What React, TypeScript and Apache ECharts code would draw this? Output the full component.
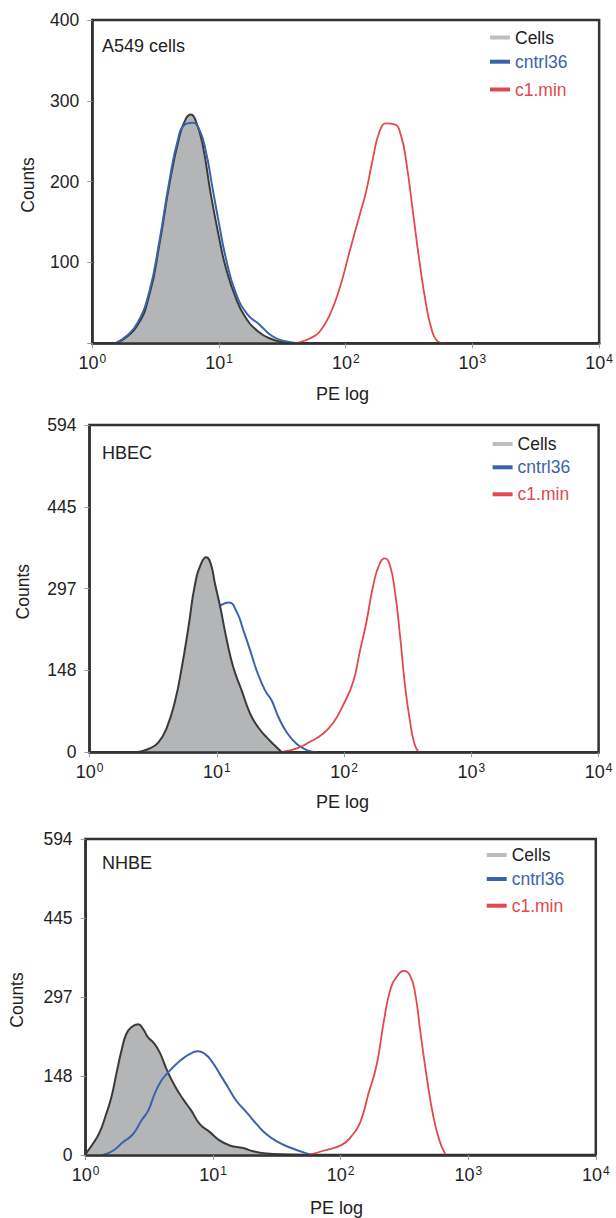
import React, { useEffect, useRef } from "react";
import * as echarts from "echarts";

// ---------- data ----------
const seriesNames = ["Cells", "cntrl36", "c1.min"];
const panelTitles = ["A549 cells", "HBEC", "NHBE"];
const xExponents = [0, 1, 2, 3, 4];
const yTicksA549 = [0, 100, 200, 300, 400];
const yTickLabelsA549 = ["", "100", "200", "300", "400"];
const yTicksPrimary = [0, 148.5, 297, 445.5, 594];
const yTickLabelsPrimary = ["0", "148", "297", "445", "594"];

// A549 cells
const a549CellsX = [1.55, 2.22, 2.83, 3.39, 4.06, 4.86, 5.48, 6.0, 6.56, 7.4, 8.6, 10, 11.3, 13.5, 16.2, 20.6, 26.2, 33.3, 37.5];
const a549CellsY = [0, 20, 61, 123, 197, 255, 278, 283, 275, 247, 185, 131, 94, 57, 32, 14, 5, 1, 0];
const a549CntrlX = [1.51, 1.86, 2.29, 2.83, 3.39, 4.06, 4.72, 5.32, 6.18, 6.97, 7.86, 8.87, 10, 11.3, 13.5, 16.7, 20.6, 26.2, 33.3, 42.4];
const a549CntrlY = [0, 9, 26, 65, 127, 201, 251, 270, 273, 265, 238, 193, 148, 106, 63, 36, 24, 9, 2.5, 0];
const a549C1X = [40.8, 52, 62, 74.7, 89.5, 107, 129, 145, 164, 185, 209, 243, 274, 300, 339, 382, 432, 473, 518, 584];
const a549C1Y = [0, 6, 14, 35, 68, 113, 159, 188, 229, 262, 272, 271, 256, 225, 163, 101, 47, 19, 4, 0];

// HBEC
const hbecCellsX = [2.35, 2.91, 3.48, 4.05, 4.71, 5.31, 5.99, 6.76, 7.62, 8.25, 8.97, 9.7, 10.6, 12.0, 13.5, 15.7, 18.3, 21.2, 24.7, 28.7, 32.4];
const hbecCellsY = [0, 6, 18, 45, 94, 154, 227, 306, 345, 354, 342, 305, 266, 203, 154, 112, 70, 45, 27, 12, 0];
const hbecCntrlX = [2.6, 3.5, 4.5, 5.5, 6.5, 7.5, 8.5, 9.5, 10.6, 12.4, 14.4, 16.2, 18.3, 20.6, 24, 27, 30.5, 35.5, 42.5, 51, 61];
const hbecCntrlY = [0, 8, 40, 95, 160, 210, 242, 258, 266, 272, 254, 221, 185, 148, 112, 94, 64, 36, 15, 4, 0];
const hbecC1X = [33.3, 42.4, 54, 68.7, 82, 98.6, 118, 133, 150, 170, 191, 210, 229, 251, 275, 301, 330, 354, 383, 395];
const hbecC1Y = [1, 7, 19, 34, 53, 86, 128, 183, 237, 304, 343, 352, 340, 292, 213, 122, 56, 19, 1, 0];

// NHBE
const nhbeCellsX = [1.0, 1.14, 1.29, 1.45, 1.59, 1.74, 1.91, 2.08, 2.28, 2.58, 2.82, 3.09, 3.38, 3.81, 4.3, 5.0, 5.81, 6.76, 7.86, 9.42, 11.3, 13.5, 17.2, 20.6, 26.2, 37.7, 54];
const nhbeCellsY = [2, 21, 43, 77, 108, 152, 196, 227, 240, 246, 237, 221, 212, 193, 162, 130, 105, 83, 58, 43, 27, 18, 13, 7, 3, 1, 0];
const nhbeCntrlX = [1.37, 1.64, 1.96, 2.35, 2.74, 3.09, 3.48, 3.93, 4.43, 5.15, 5.99, 6.96, 7.62, 8.6, 9.7, 11.3, 13.1, 15.2, 18.3, 21.9, 26.2, 32.4, 40, 51, 61];
const nhbeCntrlY = [0, 8, 24, 39, 65, 83, 115, 140, 155, 171, 184, 193, 195, 190, 177, 152, 127, 102, 80, 58, 39, 24, 14, 5, 0];
const nhbeC1X = [57.5, 73, 102, 122, 142, 165, 192, 216, 244, 275, 314, 350, 384, 420, 473, 534, 595, 659, 670];
const nhbeC1Y = [0.6, 8, 19, 36, 61, 115, 171, 246, 309, 335, 346, 337, 303, 234, 146, 71, 27, 2, 0];

// ---------- styling / layout ----------
const FONT = '"Liberation Sans", Arial, Helvetica, sans-serif';
const TEXT = "#222222";
const CELLS_LINE = "#3a3a3a";
const CELLS_FILL = "#b3b5b7";
const CELLS_LEGEND = "#bdbdbd";
const BLUE = "#3b63ac";
const RED = "#e2484e";

const grids = [
  { left: 92.3, top: 20, width: 507.7, height: 323.3 },
  { left: 89.5, top: 425, width: 509.1, height: 327.3 },
  { left: 85.6, top: 839, width: 510.2, height: 316 },
];
const legendLayout = [
  { left: 490, ys: [37.5, 61.7, 89.5] },
  { left: 492.6, ys: [444, 467.3, 494.3] },
  { left: 486.7, ys: [855, 879, 905.7] },
];
const titlePos = [
  { x: 102, y: 46 },
  { x: 102, y: 452.7 },
  { x: 102, y: 863.3 },
];
const countsPos = [
  { x: 27.5, y: 185 },
  { x: 22.6, y: 591.7 },
  { x: 17, y: 1000 },
];
const peLogPos = [
  { x: 342.6, y: 394 },
  { x: 342.6, y: 802 },
  { x: 336.6, y: 1208 },
];

function pairs(xs: number[], ys: number[]) {
  return xs.map((x, i) => [x, ys[i]]);
}

const panels = [
  {
    yMax: 400, yInterval: 100, yTicks: yTicksA549, yLabels: yTickLabelsA549,
    cells: pairs(a549CellsX, a549CellsY), cntrl: pairs(a549CntrlX, a549CntrlY), c1: pairs(a549C1X, a549C1Y),
    cellsOnTop: false,
  },
  {
    yMax: 594, yInterval: 148.5, yTicks: yTicksPrimary, yLabels: yTickLabelsPrimary,
    cells: pairs(hbecCellsX, hbecCellsY), cntrl: pairs(hbecCntrlX, hbecCntrlY), c1: pairs(hbecC1X, hbecC1Y),
    cellsOnTop: true,
  },
  {
    yMax: 594, yInterval: 148.5, yTicks: yTicksPrimary, yLabels: yTickLabelsPrimary,
    cells: pairs(nhbeCellsX, nhbeCellsY), cntrl: pairs(nhbeCntrlX, nhbeCntrlY), c1: pairs(nhbeC1X, nhbeC1Y),
    cellsOnTop: false,
  },
];

function lineSeries(name: string, i: number, data: number[][], color: string, width: number, z: number, area?: string) {
  const s: any = {
    name,
    type: "line",
    xAxisIndex: i,
    yAxisIndex: i,
    data,
    z,
    smooth: 0.5,
    showSymbol: false,
    symbol: "none",
    lineStyle: { color, width, join: "round", cap: "round" },
    itemStyle: { color },
    silent: true,
  };
  if (area) s.areaStyle = { color: area, opacity: 1 };
  return s;
}

function buildOption() {
  const grid: any[] = [];
  const xAxis: any[] = [];
  const yAxis: any[] = [];
  const series: any[] = [];
  const legend: any[] = [];
  const graphic: any[] = [];

  panels.forEach((p, i) => {
    grid.push({
      ...grids[i],
      show: true,
      borderColor: "#333",
      borderWidth: 2.5,
      containLabel: false,
    });
    xAxis.push({
      type: "log",
      logBase: 10,
      gridIndex: i,
      min: Math.pow(10, xExponents[0]),
      max: Math.pow(10, xExponents[xExponents.length - 1]),
      axisLine: { show: true, onZero: false, lineStyle: { color: "#333", width: 2.5 } },
      axisTick: { show: true, length: 5, lineStyle: { color: "#9a9a9a", width: 1 } },
      minorTick: { show: false },
      splitLine: { show: false },
      z: 10,
      axisLabel: {
        margin: 10,
        fontSize: 18,
        fontFamily: FONT,
        color: TEXT,
        formatter: (v: number) => {
          const e = Math.round(Math.log10(v));
          return xExponents.indexOf(e) >= 0 ? `{b|10}{s|${e}}` : "";
        },
        rich: {
          b: { fontSize: 18, fontFamily: FONT, color: TEXT, lineHeight: 19 },
          s: { fontSize: 12, fontFamily: FONT, color: TEXT, lineHeight: 12, verticalAlign: "top", padding: [0, 0, 0, 1] },
        },
      },
    });
    yAxis.push({
      type: "value",
      gridIndex: i,
      min: 0,
      max: p.yMax,
      interval: p.yInterval,
      z: 10,
      axisLine: { show: true, lineStyle: { color: "#333", width: 2.5 } },
      axisTick: { show: true, length: 5, lineStyle: { color: "#9a9a9a", width: 1 } },
      splitLine: { show: false },
      axisLabel: {
        margin: 13,
        fontSize: 17.5,
        fontFamily: FONT,
        color: TEXT,
        formatter: (v: number) => {
          let best = 0;
          p.yTicks.forEach((t, k) => {
            if (Math.abs(t - v) < Math.abs(p.yTicks[best] - v)) best = k;
          });
          return p.yLabels[best];
        },
      },
    });

    const cellsZ = p.cellsOnTop ? 4 : 2;
    const cntrlZ = p.cellsOnTop ? 2 : 3;
    series.push(
      lineSeries(seriesNames[0], i, p.cells, CELLS_LINE, 2, cellsZ, CELLS_FILL),
      lineSeries(seriesNames[1], i, p.cntrl, BLUE, 2, cntrlZ),
      lineSeries(seriesNames[2], i, p.c1, RED, 1.8, 5)
    );

    const legendColors = [CELLS_LEGEND, BLUE, RED];
    const legendTextColors = [TEXT, BLUE, RED];
    seriesNames.forEach((name, k) => {
      legend.push({
        left: legendLayout[i].left,
        top: legendLayout[i].ys[k] - 10,
        padding: 0,
        icon: "rect",
        itemWidth: 20,
        itemHeight: 4,
        selectedMode: false,
        itemStyle: { borderWidth: 0 },
        textStyle: { fontSize: 17.5, fontFamily: FONT, lineHeight: 20 },
        data: [
          {
            name,
            itemStyle: { color: legendColors[k], borderWidth: 0 },
            textStyle: { color: legendTextColors[k], fontSize: 17.5, fontFamily: FONT, lineHeight: 20 },
          },
        ],
      });
    });

    graphic.push({
      type: "text",
      x: titlePos[i].x,
      y: titlePos[i].y,
      silent: true,
      style: { text: panelTitles[i], fontSize: 18, fontFamily: FONT, fill: TEXT, align: "left", verticalAlign: "middle" },
    });
    graphic.push({
      type: "text",
      x: countsPos[i].x,
      y: countsPos[i].y,
      rotation: Math.PI / 2,
      silent: true,
      style: { text: "Counts", fontSize: 17.5, fontFamily: FONT, fill: TEXT, align: "center", verticalAlign: "middle" },
    });
    graphic.push({
      type: "text",
      x: peLogPos[i].x,
      y: peLogPos[i].y,
      silent: true,
      style: { text: "PE log", fontSize: 18, fontFamily: FONT, fill: TEXT, align: "center", verticalAlign: "middle" },
    });
  });

  return {
    animation: false,
    backgroundColor: "#ffffff",
    grid,
    xAxis,
    yAxis,
    series,
    legend,
    graphic,
  };
}

export default function App() {
  const ref = useRef<HTMLDivElement>(null);
  useEffect(() => {
    document.body.style.margin = "0";
    if (!ref.current) return;
    const chart = echarts.init(ref.current, undefined, { renderer: "svg" });
    chart.setOption(buildOption() as any);
    return () => chart.dispose();
  }, []);
  return <div ref={ref} style={{ position: "absolute", left: 0, top: 0, width: 616, height: 1218 }} />;
}
